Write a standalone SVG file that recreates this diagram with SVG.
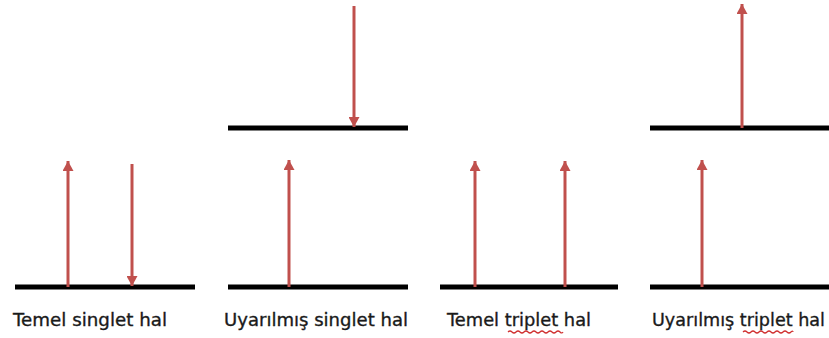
<svg xmlns="http://www.w3.org/2000/svg" width="829" height="338" viewBox="0 0 829 338">
  <style>
    .lvl { stroke: #000; stroke-width: 5; }
    .arr { stroke: #C0504D; stroke-width: 3; fill: none; marker-end: url(#head); }
    .lbl { font-family: "DejaVu Sans", Verdana, sans-serif; font-size: 18px; fill: #1a1a1a; stroke: #1a1a1a; stroke-width: 0.35; }
    .wave { stroke: #D03030; stroke-width: 1.2; fill: none; }
  </style>
  <defs>
    <marker id="head" viewBox="0 0 10 11" markerWidth="10" markerHeight="11" refX="10" refY="5.5" orient="auto" markerUnits="userSpaceOnUse">
      <path d="M0,0 L10,5.5 L0,11 z" fill="#C0504D"/>
    </marker>
  </defs>
  <rect width="829" height="338" fill="#fff"/>

  <g id="temel-singlet">
    <line class="lvl" x1="15" y1="287" x2="195" y2="287"/>
    <text class="lbl" x="13" y="326" textLength="154" lengthAdjust="spacingAndGlyphs">Temel singlet hal</text>
  </g>
  <g id="uyarilmis-singlet">
    <line class="lvl" x1="228" y1="128" x2="408" y2="128"/>
    <line class="lvl" x1="228" y1="287" x2="408" y2="287"/>
    <text class="lbl" x="224" y="326" textLength="184" lengthAdjust="spacingAndGlyphs">Uyarılmış singlet hal</text>
  </g>
  <g id="temel-triplet">
    <line class="lvl" x1="440" y1="287" x2="618" y2="287"/>
    <text class="lbl" x="447" y="326" textLength="144" lengthAdjust="spacingAndGlyphs">Temel triplet hal</text>
    <path class="wave" d="M508,332 q2,-2 4,0 t4,0 t4,0 t4,0 t4,0 t4,0 t4,0 t4,0 t4,0 t4,0 t4,0 t4,0 t4,0 t3,0"/>
  </g>
  <g id="uyarilmis-triplet">
    <line class="lvl" x1="650" y1="128" x2="829" y2="128"/>
    <line class="lvl" x1="650" y1="287" x2="829" y2="287"/>
    <text class="lbl" x="652" y="326" textLength="173" lengthAdjust="spacingAndGlyphs">Uyarılmış triplet hal</text>
    <path class="wave" d="M743,332 q2,-2 4,0 t4,0 t4,0 t4,0 t4,0 t4,0 t4,0 t4,0 t4,0 t4,0 t4,0 t4,0 t2,0"/>
  </g>

  <g id="connectors">
    <line class="arr" x1="68" y1="287" x2="68" y2="161"/>
    <line class="arr" x1="132" y1="164" x2="132" y2="286"/>
    <line class="arr" x1="354" y1="6" x2="354" y2="127"/>
    <line class="arr" x1="289" y1="287" x2="289" y2="160"/>
    <line class="arr" x1="475" y1="287" x2="475" y2="161"/>
    <line class="arr" x1="565" y1="287" x2="565" y2="161"/>
    <line class="arr" x1="742" y1="128" x2="742" y2="4"/>
    <line class="arr" x1="702" y1="287" x2="702" y2="160"/>
  </g>
</svg>
